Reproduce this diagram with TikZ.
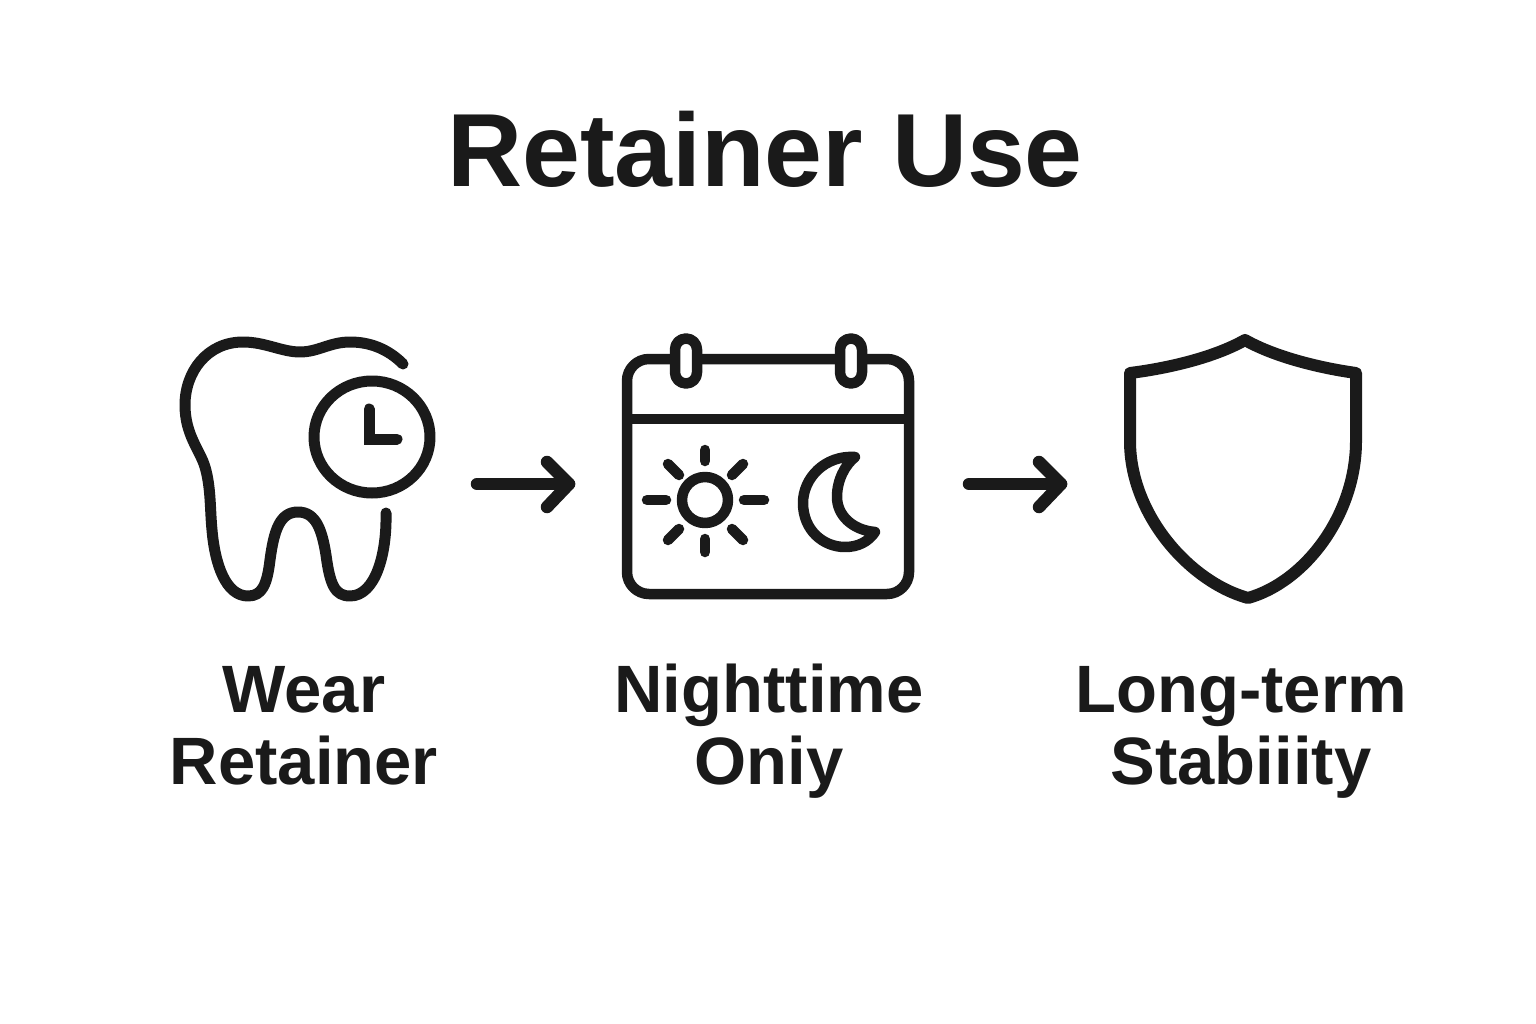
\documentclass[tikz,border=0pt]{standalone}
\usepackage{fontspec}
\setmainfont{Liberation Sans}
\definecolor{ink}{HTML}{1A1A1A}
\tikzset{
  icon/.style={draw=ink,line width=11pt,line cap=round,line join=round},
  calicon/.style={icon,line width=10.5pt},
  shieldicon/.style={icon,line width=12pt},
  flowline/.style={icon,line width=12.5pt},
  title/.style={font=\bfseries\fontsize{104}{110}\selectfont,text=ink,inner sep=0pt},
  label/.style={font=\bfseries\fontsize{67}{72}\selectfont,text=ink,inner sep=0pt,align=center}
}
\newcommand{\lh}{\vphantom{Nghjy}}
\begin{document}
\begin{tikzpicture}[x=1pt,y=-1pt]
\useasboundingbox (0,0) rectangle (1536,1024);
\fill[white] (0,0) rectangle (1536,1024);
\node[title] (t) at (765,149) {Retainer Use};
% tooth
\draw[icon] (403,364) .. controls (388,349) and (370,342) .. (350,342)
  .. controls (330,342) and (318,352) .. (300,352)
  .. controls (282,352) and (265,342) .. (243,342)
  .. controls (207,342) and (185,372) .. (185,405)
  .. controls (185,435) and (200,450) .. (205,467)
  .. controls (211,487) and (210,510) .. (212,530)
  .. controls (215,565) and (226,596) .. (248,596)
  .. controls (262,596) and (267,585) .. (270,560)
  .. controls (274,530) and (280,512) .. (298,512)
  .. controls (316,512) and (322,530) .. (326,555)
  .. controls (330,585) and (335,596) .. (350,596)
  .. controls (375,596) and (387,555) .. (386,513);
\draw[icon] (372,437) ellipse (58 and 56);
\draw[icon,line join=miter] (369,409) -- (369,439) -- (397,439);
% calendar
\draw[calicon] (649,359) -- (887,359) arc[start angle=-90,end angle=0,radius=22] -- (909,572)
  arc[start angle=0,end angle=90,radius=22] -- (649,594) arc[start angle=90,end angle=180,radius=22]
  -- (627,381) arc[start angle=180,end angle=270,radius=22] -- cycle;
\draw[calicon,line cap=butt] (627,419) -- (909,419);
\draw[calicon,fill=white,rounded corners=11pt] (675,338.5) rectangle (697,383.5);
\draw[calicon,fill=white,rounded corners=11pt] (840,338.5) rectangle (862,383.5);
% sun
\draw[calicon] (705,500) circle (23);
\foreach \a/\b/\c/\d in {705/450/705/461, 705/539/705/552, 647/500/666/500, 744/500/764/500,
  668/464/679/475, 743/464/732/475, 668/540/679/529, 743/540/732/529}
  \draw[calicon] (\a,\b) -- (\c,\d);
% moon
\draw[calicon] (855,457) .. controls (825,455) and (803,478) .. (803,503)
  .. controls (803,530) and (823,547) .. (845,547)
  .. controls (858,547) and (868,542) .. (875,532)
  .. controls (852,530) and (837,515) .. (837,497)
  .. controls (837,480) and (845,465) .. (855,457) -- cycle;
% shield
\draw[shieldicon] (1245,340) .. controls (1215,357) and (1170,368) .. (1130,373)
  -- (1130,441) .. controls (1130,515) and (1190,582) .. (1248,598)
  .. controls (1305,582) and (1356,515) .. (1356,441)
  -- (1356,373) .. controls (1320,368) and (1275,357) .. (1245,340) -- cycle;
% labels
\node[label] (a) at (304,731) {\lh Wear\\\lh Retainer};
\node[label] (b) at (769,731) {\lh Nighttime\\\lh Oniy};
\node[label] (c) at (1241,731) {\lh Long-term\\\lh Stabiiity};
% arrows
\coordinate (a1) at (477,484); \coordinate (a2) at (569,484);
\coordinate (a3) at (547,462); \coordinate (a4) at (547,507);
\coordinate (b1) at (969,484); \coordinate (b2) at (1061,484);
\coordinate (b3) at (1039,462); \coordinate (b4) at (1039,507);
\draw[flowline] (a1) -- (a2);
\draw[flowline] (a3) -- (a2) -- (a4);
\draw[flowline] (b1) -- (b2);
\draw[flowline] (b3) -- (b2) -- (b4);
\end{tikzpicture}
\end{document}
